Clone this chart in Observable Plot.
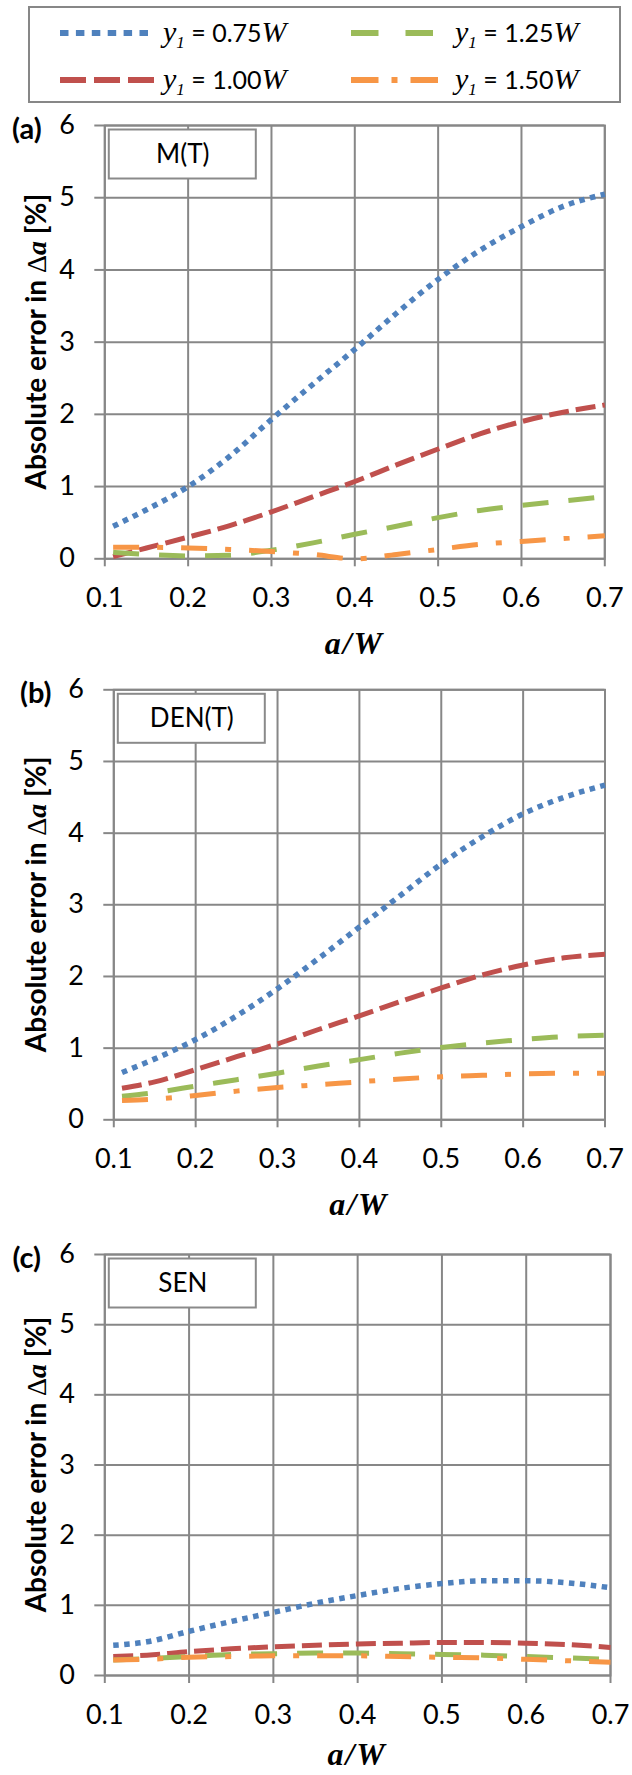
<!DOCTYPE html>
<html><head><meta charset="utf-8">
<script src="https://cdn.jsdelivr.net/npm/d3@7"></script>
<script src="https://cdn.jsdelivr.net/npm/@observablehq/plot@0.6"></script>
<style>
body{margin:0;background:#fff;}
#root{position:relative;width:632px;height:1775px;overflow:hidden;background:#fff;}
#root > svg{position:absolute;left:0;}
</style></head><body><div id="root"></div>
<script>
// ---------- data ----------
const aW = [0.11, 0.15, 0.2, 0.25, 0.3, 0.35, 0.4, 0.45, 0.5, 0.55, 0.6, 0.65, 0.7];
const seriesValues = ["0.75", "1.00", "1.25", "1.50"];
const xTicks = [0.1, 0.2, 0.3, 0.4, 0.5, 0.6, 0.7];
const yTicks = [0, 1, 2, 3, 4, 5, 6];
const panelTags = ["(a)", "(b)", "(c)"];
const panelNames = ["M(T)", "DEN(T)", "SEN"];

// (a) M(T)
const mT_075 = [0.45, 0.68, 1.0, 1.42, 1.93, 2.42, 2.9, 3.4, 3.87, 4.27, 4.6, 4.88, 5.05];
const mT_100 = [0.03, 0.15, 0.3, 0.46, 0.65, 0.86, 1.07, 1.3, 1.52, 1.73, 1.9, 2.03, 2.13];
const mT_125 = [0.09, 0.06, 0.04, 0.05, 0.12, 0.22, 0.34, 0.45, 0.57, 0.67, 0.74, 0.8, 0.86];
const mT_150 = [0.16, 0.16, 0.15, 0.13, 0.1, 0.06, 0.0, 0.06, 0.13, 0.2, 0.24, 0.28, 0.32];
// (b) DEN(T)
const denT_075 = [0.66, 0.85, 1.12, 1.45, 1.83, 2.25, 2.69, 3.13, 3.57, 3.95, 4.27, 4.5, 4.67];
const denT_100 = [0.44, 0.53, 0.7, 0.88, 1.06, 1.26, 1.45, 1.65, 1.84, 2.02, 2.16, 2.26, 2.31];
const denT_125 = [0.33, 0.38, 0.47, 0.56, 0.65, 0.75, 0.84, 0.93, 1.01, 1.07, 1.12, 1.16, 1.18];
const denT_150 = [0.27, 0.29, 0.34, 0.4, 0.45, 0.49, 0.53, 0.57, 0.6, 0.62, 0.64, 0.65, 0.65];
// (c) SEN
const sen_075 = [0.43, 0.48, 0.63, 0.77, 0.9, 1.03, 1.14, 1.24, 1.31, 1.35, 1.35, 1.32, 1.25];
const sen_100 = [0.27, 0.29, 0.34, 0.38, 0.41, 0.43, 0.45, 0.46, 0.47, 0.47, 0.46, 0.44, 0.4];
const sen_125 = [0.22, 0.24, 0.27, 0.3, 0.31, 0.32, 0.32, 0.31, 0.3, 0.29, 0.27, 0.25, 0.23];
const sen_150 = [0.22, 0.23, 0.26, 0.27, 0.28, 0.28, 0.28, 0.27, 0.26, 0.25, 0.23, 0.21, 0.19];

const panelSeries = [
  [mT_075, mT_100, mT_125, mT_150],
  [denT_075, denT_100, denT_125, denT_150],
  [sen_075, sen_100, sen_125, sen_150]
];

// ---------- styles / layout ----------
const colors = ["#4F81BD", "#C0504D", "#9BBB59", "#F79646"];
const dashes = ["5.5 5.5", "20 7", "26 20", "26 18 6 18"];
const widths = [5.5, 5, 5, 5];
const gridColor = "#878787";
const sans = "Lato, 'Open Sans', sans-serif";
const serif = "'Liberation Serif', 'DejaVu Serif', serif";
const layouts = [
  {top: 105, height: 560, mt: 20, mb: 106.7, ml: 104.3, mr: 27.7, xt: 96},
  {top: 665, height: 550, mt: 24.3, mb: 95.7, ml: 113.3, mr: 27.5, xt: 96},
  {top: 1215, height: 560, mt: 39, mb: 100, ml: 104.3, mr: 22, xt: 90}
];

const root = document.getElementById("root");

// ---------- legend ----------
{
  const svg = d3.create("svg").attr("width", 632).attr("height", 105).style("top", "0px");
  svg.append("rect").attr("x", 29).attr("y", 7).attr("width", 591).attr("height", 95)
    .attr("fill", "white").attr("stroke", gridColor).attr("stroke-width", 2);
  const pos = [
    {sx1: 60, sx2: 150, tx: 163, y: 33, dash: "8.5 7.4"},
    {sx1: 60, sx2: 154, tx: 163, y: 80, dash: "26 8"},
    {sx1: 351, sx2: 434, tx: 455, y: 33, dash: "27.5 27"},
    {sx1: 351, sx2: 440, tx: 455, y: 80, dash: "27.5 13 6 13"}
  ];
  seriesValues.forEach((v, k) => {
    const p = pos[k];
    svg.append("line").attr("x1", p.sx1).attr("x2", p.sx2).attr("y1", p.y).attr("y2", p.y)
      .attr("stroke", colors[k]).attr("stroke-width", 6).attr("stroke-dasharray", p.dash);
    const t = svg.append("text").attr("x", p.tx).attr("y", p.y + 9).attr("fill", "black");
    t.append("tspan").attr("font-family", serif).attr("font-style", "italic").attr("font-size", 30).text("y");
    t.append("tspan").attr("font-family", serif).attr("font-style", "italic").attr("font-size", 17).attr("dy", 6).text("1");
    t.append("tspan").attr("font-family", sans).attr("font-size", 25).attr("dy", -6).text(" = " + v);
    t.append("tspan").attr("font-family", serif).attr("font-style", "italic").attr("font-size", 30).text("W");
  });
  root.appendChild(svg.node());
}

// ---------- panels ----------
panelSeries.forEach((series, p) => {
  const L = layouts[p];
  const rows = arr => aW.map((x, i) => ({x, y: arr[i]}));
  const chart = Plot.plot({
    width: 632,
    height: L.height,
    marginTop: L.mt, marginBottom: L.mb, marginLeft: L.ml, marginRight: L.mr,
    style: {fontFamily: sans, fontSize: "27px", color: "black", background: "transparent", overflow: "visible"},
    x: {domain: [0.1, 0.7]},
    y: {domain: [0, 6]},
    marks: [
      Plot.gridX({ticks: xTicks, stroke: gridColor, strokeOpacity: 1, strokeWidth: 2}),
      Plot.gridY({ticks: yTicks, stroke: gridColor, strokeOpacity: 1, strokeWidth: 2}),
      Plot.frame({stroke: gridColor, strokeWidth: 2}),
      Plot.axisX({ticks: xTicks, tickSize: 8, tickPadding: 21, tickFormat: d3.format(".1f"),
        fontSize: 27, stroke: gridColor, strokeWidth: 2, label: null}),
      Plot.axisY({ticks: yTicks, tickSize: 10, tickPadding: 20, tickFormat: d3.format("d"), fontSize: 27,
        stroke: gridColor, strokeWidth: 2, label: null}),
      ...series.map((arr, k) => Plot.line(rows(arr), {
        x: "x", y: "y", stroke: colors[k], strokeWidth: widths[k], strokeDasharray: dashes[k],
        strokeLinecap: "butt", strokeLinejoin: "round", curve: "monotone-x"
      })),
      Plot.text([panelTags[p]], {text: d => d, frameAnchor: "top-left", lineAnchor: "middle", dx: -78, dy: 4,
        fontSize: 29, fontWeight: "bold", textAnchor: "middle"}),
      Plot.text([panelNames[p]], {text: d => d, frameAnchor: "top-left", lineAnchor: "middle", dx: 78, dy: 29,
        fontSize: 26, textAnchor: "middle"})
    ]
  });
  chart.style.top = L.top + "px";
  const svg = d3.select(chart);
  // label box, inserted just before the last group (the label text)
  const box = document.createElementNS("http://www.w3.org/2000/svg", "rect");
  box.setAttribute("x", L.ml + 4.5); box.setAttribute("y", L.mt + 4.5);
  box.setAttribute("width", 147); box.setAttribute("height", 49);
  box.setAttribute("fill", "white"); box.setAttribute("stroke", "#8a8a8a"); box.setAttribute("stroke-width", 2);
  const kids = Array.from(chart.children).filter(n => n.tagName.toLowerCase() === "g");
  chart.insertBefore(box, kids[kids.length - 1]);
  // x title
  const frameRight = 632 - L.mr;
  const frameBottom = L.height - L.mb;
  svg.append("text").attr("x", (L.ml + frameRight) / 2).attr("y", frameBottom + L.xt)
    .attr("text-anchor", "middle").attr("font-family", serif).attr("font-style", "italic")
    .attr("font-weight", "bold").attr("font-size", 32).attr("letter-spacing", 2)
    .attr("fill", "black").text("a/W");
  // y title
  const cy = L.mt + (frameBottom - L.mt) / 2;
  const yt = svg.append("text").attr("transform", `translate(46,${cy}) rotate(-90)`)
    .attr("text-anchor", "middle").attr("fill", "black").attr("font-size", 28);
  yt.append("tspan").attr("font-family", sans).attr("font-weight", "bold").text("Absolute error in ");
  yt.append("tspan").attr("font-family", serif).text("\u0394");
  yt.append("tspan").attr("font-family", serif).attr("font-weight", "bold").attr("font-style", "italic").text("a");
  yt.append("tspan").attr("font-family", sans).attr("font-weight", "bold").text(" [%]");
  root.appendChild(chart);
});
</script>
</body></html>
